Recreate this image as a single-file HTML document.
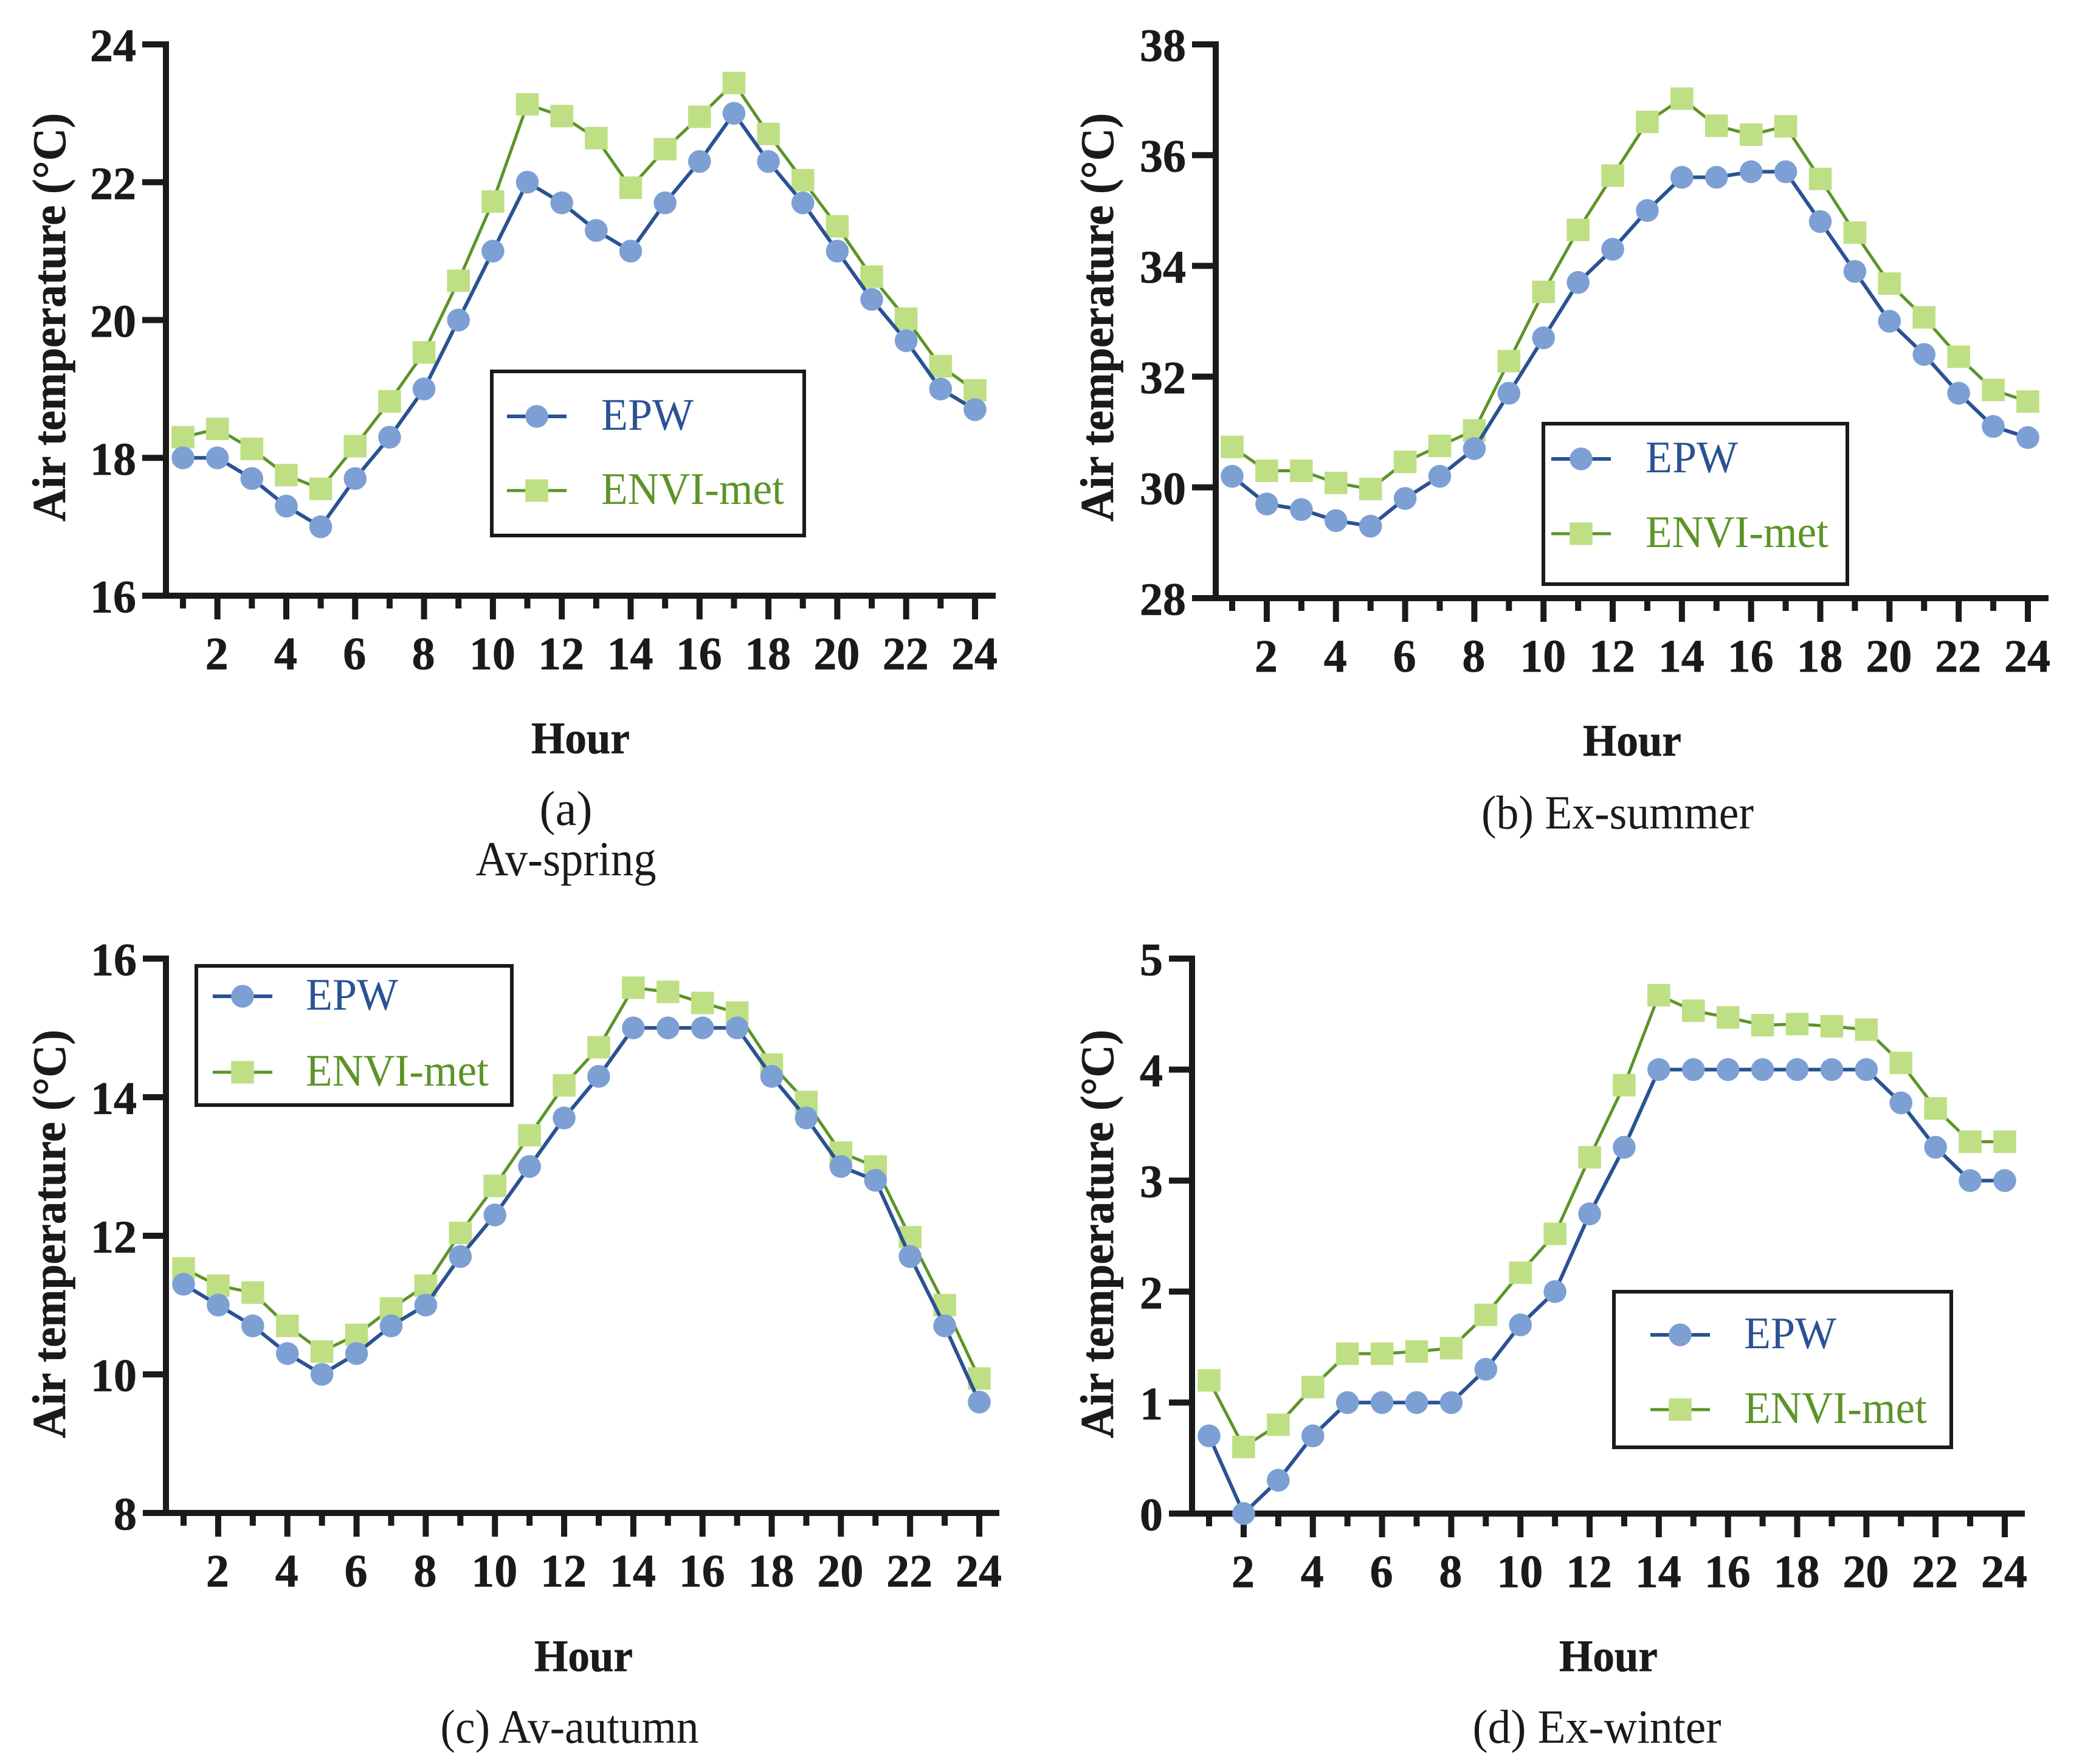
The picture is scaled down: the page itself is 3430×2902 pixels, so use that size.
<!DOCTYPE html>
<html lang="en">
<head>
<meta charset="utf-8">
<title>Air temperature: EPW vs ENVI-met</title>
<style>
html,body{margin:0;padding:0;background:#fff;}
svg{display:block;}
text{font-family:"Liberation Serif",serif;}
</style>
</head>
<body>
<svg id="chart" xmlns="http://www.w3.org/2000/svg" width="3430" height="2902" viewBox="0 0 3430 2902"></svg>
<script>
var hours = [1,2,3,4,5,6,7,8,9,10,11,12,13,14,15,16,17,18,19,20,21,22,23,24];
var xTickLabels = [2,4,6,8,10,12,14,16,18,20,22,24];

var springTicks = [16,18,20,22,24];
var springEpw = [18,18,17.7,17.3,17,17.7,18.3,19,20,21,22,21.7,21.3,21,21.7,22.3,23,22.3,21.7,21,20.3,19.7,19,18.7];
var springEnvi = [18.3,18.42,18.13,17.75,17.55,18.17,18.82,19.53,20.57,21.72,23.13,22.96,22.64,21.92,22.48,22.95,23.44,22.7,22.03,21.36,20.63,20.02,19.33,18.98];

var summerTicks = [28,30,32,34,36,38];
var summerEpw = [30.2,29.7,29.6,29.4,29.3,29.8,30.2,30.7,31.7,32.7,33.7,34.3,35,35.6,35.6,35.7,35.7,34.8,33.9,33,32.4,31.7,31.1,30.9];
var summerEnvi = [30.73,30.3,30.3,30.08,29.97,30.46,30.75,31.03,32.28,33.53,34.65,35.63,36.6,37.02,36.53,36.37,36.52,35.57,34.6,33.68,33.07,32.36,31.76,31.55];

var autumnTicks = [8,10,12,14,16];
var autumnEpw = [11.3,11,10.7,10.3,10,10.3,10.7,11,11.7,12.3,13,13.7,14.3,15,15,15,15,14.3,13.7,13,12.8,11.7,10.7,9.6];
var autumnEnvi = [11.53,11.28,11.18,10.7,10.33,10.57,10.95,11.28,12.04,12.72,13.45,14.17,14.72,15.58,15.52,15.36,15.22,14.47,13.93,13.2,13,11.98,11,9.94];

var winterTicks = [0,1,2,3,4,5];
var winterEpw = [0.7,0,0.3,0.7,1,1,1,1,1.3,1.7,2,2.7,3.3,4,4,4,4,4,4,4,3.7,3.3,3,3];
var winterEnvi = [1.2,0.6,0.8,1.14,1.44,1.44,1.46,1.49,1.79,2.17,2.52,3.21,3.86,4.67,4.53,4.47,4.4,4.41,4.39,4.36,4.06,3.65,3.35,3.35];

var AXIS = '#1a1a1a', BLUE = '#2a5294', LBLUE = '#7da0d4', GREEN = '#5c9427', LGREEN = '#bfdf85';
var svg = document.getElementById('chart');

function make(tag, attrs, txt, parent) {
  var e = document.createElementNS('http://www.w3.org/2000/svg', tag);
  for (var k in attrs) e.setAttribute(k, attrs[k]);
  if (txt !== undefined && txt !== null) e.textContent = txt;
  (parent || svg).appendChild(e);
  return e;
}

function drawSeries(g, xFn, yFn, values, isCircle) {
  var pts = values.map(function (v, i) { return xFn(hours[i]) + ',' + yFn(v); }).join(' ');
  var line = make('polyline', {points: pts, fill: 'none', stroke: isCircle ? BLUE : GREEN, 'stroke-width': isCircle ? 6 : 5, 'stroke-linejoin': 'round'}, null, g);
  
  
  values.forEach(function (v, i) {
    var m;
    if (isCircle) {
      m = make('circle', {cx: xFn(hours[i]), cy: yFn(v), r: 18.8, fill: LBLUE}, null, g);
      
    } else {
      m = make('rect', {x: xFn(hours[i]) - 18.8, y: yFn(v) - 18.5, width: 37.6, height: 37, fill: LGREEN}, null, g);
      
    }
    
  });
}

function drawLegend(p, g) {
  var L = p.legend;
  var box = make('rect', {x: L.x0 + 3, y: L.y0 + 3, width: L.x1 - L.x0 - 6, height: L.y1 - L.y0 - 6, fill: '#fff', stroke: AXIS, 'stroke-width': 6}, null, g);
  
  

  var l1 = make('line', {x1: L.mx - 49, x2: L.mx + 49, y1: L.y1row, y2: L.y1row, stroke: BLUE, 'stroke-width': 6}, null, g);
  
  
  var c1 = make('circle', {cx: L.mx, cy: L.y1row, r: 18.8, fill: LBLUE}, null, g);
  
  
  var t1 = make('text', {x: L.tx, y: L.y1row + 22, 'font-size': 74, fill: BLUE, textLength: 152, lengthAdjust: 'spacingAndGlyphs'}, 'EPW', g);
  
  

  var l2 = make('line', {x1: L.mx - 49, x2: L.mx + 49, y1: L.y2row, y2: L.y2row, stroke: GREEN, 'stroke-width': 5}, null, g);
  
  
  var c2 = make('rect', {x: L.mx - 18.8, y: L.y2row - 18.5, width: 37.6, height: 37, fill: LGREEN}, null, g);
  
  
  var t2 = make('text', {x: L.tx, y: L.y2row + 22, 'font-size': 74, fill: GREEN, textLength: 301, lengthAdjust: 'spacingAndGlyphs'}, 'ENVI-met', g);
  
  
}

function drawPanel(p) {
  var g = make('g', {});
  
  

  var minV = p.ticks[0], maxV = p.ticks[p.ticks.length - 1];
  function yFn(v) { return p.yBottom + (v - minV) * (p.yTop - p.yBottom) / (maxV - minV); }
  function xFn(h) { return p.x1 + (h - 1) * (p.x24 - p.x1) / 23; }

  // axes
  var yAxis = make('line', {x1: p.axisX, x2: p.axisX, y1: p.yTop - 5, y2: p.yBottom, stroke: AXIS, 'stroke-width': 10}, null, g);
  
  
  var xAxis = make('line', {x1: p.left, x2: p.right, y1: p.yBottom, y2: p.yBottom, stroke: AXIS, 'stroke-width': 10}, null, g);
  
  

  // y ticks
  p.ticks.forEach(function (v) {
    var tk = make('line', {x1: p.left, x2: p.axisX, y1: yFn(v), y2: yFn(v), stroke: AXIS, 'stroke-width': 10}, null, g);
    
    
    var lb = make('text', {x: p.left - 10, y: yFn(v) + 27.5, 'font-size': 76, 'font-weight': 'bold', 'text-anchor': 'end', fill: AXIS, stroke: AXIS, 'stroke-width': 0.7}, v, g);
    
    
  });

  // x ticks
  hours.forEach(function (h) {
    var major = xTickLabels.indexOf(h) >= 0;
    var tk = make('line', {x1: xFn(h), x2: xFn(h), y1: p.yBottom, y2: p.yBottom + (major ? 39 : 21), stroke: AXIS, 'stroke-width': 10}, null, g);
    
    
  });
  xTickLabels.forEach(function (h) {
    var lb = make('text', {x: xFn(h) - 1, y: p.yBottom + 121, 'font-size': 76, 'font-weight': 'bold', 'text-anchor': 'middle', fill: AXIS, stroke: AXIS, 'stroke-width': 0.7}, h, g);
    
    
  });

  // titles
  var yt = make('text', {transform: 'translate(' + p.yTitleX + ',' + p.yTitleY + ') rotate(-90)', 'font-size': 77, 'font-weight': 'bold', 'text-anchor': 'middle', fill: AXIS, stroke: AXIS, 'stroke-width': 0.7, textLength: 672, lengthAdjust: 'spacingAndGlyphs'}, 'Air temperature (°C)', g);
  
  
  var xt = make('text', {x: p.hourX, y: p.hourY, 'font-size': 74, 'font-weight': 'bold', 'text-anchor': 'middle', fill: AXIS, stroke: AXIS, 'stroke-width': 0.7, textLength: 162, lengthAdjust: 'spacingAndGlyphs'}, 'Hour', g);
  
  

  // captions
  p.captions.forEach(function (c) {
    var cp = make('text', {x: c.x, y: c.y, 'font-size': c.fs, 'text-anchor': 'middle', fill: AXIS, textLength: c.len, lengthAdjust: 'spacingAndGlyphs'}, c.t, g);
    
    
  });

  drawLegend(p, g);
  drawSeries(g, xFn, yFn, p.envi, false);
  drawSeries(g, xFn, yFn, p.epw, true);
}

drawPanel({name: 'panel-a-av-spring', ticks: springTicks, epw: springEpw, envi: springEnvi,
  axisX: 273, left: 234, right: 1638, yTop: 73, yBottom: 980, x1: 301, x24: 1604,
  yTitleX: 107, yTitleY: 522, hourX: 955, hourY: 1239,
  captions: [{t: '(a)', x: 931, y: 1357, len: 87, fs: 80}, {t: 'Av-spring', x: 931, y: 1440, len: 297, fs: 80}],
  legend: {x0: 806, x1: 1326, y0: 608, y1: 884, mx: 883, tx: 989, y1row: 685, y2row: 807}});

drawPanel({name: 'panel-b-ex-summer', ticks: summerTicks, epw: summerEpw, envi: summerEnvi,
  axisX: 2000, left: 1961, right: 3370, yTop: 73, yBottom: 984, x1: 2027, x24: 3336,
  yTitleX: 1831, yTitleY: 522, hourX: 2685, hourY: 1243,
  captions: [{t: '(b) Ex-summer', x: 2661, y: 1363, len: 448, fs: 78}],
  legend: {x0: 2536, x1: 3042, y0: 694, y1: 964, mx: 2601, tx: 2707, y1row: 755, y2row: 878}});

drawPanel({name: 'panel-c-av-autumn', ticks: autumnTicks, epw: autumnEpw, envi: autumnEnvi,
  axisX: 273, left: 235, right: 1644, yTop: 1577, yBottom: 2489, x1: 302, x24: 1611,
  yTitleX: 107, yTitleY: 2030, hourX: 960, hourY: 2749,
  captions: [{t: '(c) Av-autumn', x: 937, y: 2867, len: 425, fs: 78}],
  legend: {x0: 320, x1: 845, y0: 1586, y1: 1821, mx: 399, tx: 503, y1row: 1639, y2row: 1764}});

drawPanel({name: 'panel-d-ex-winter', ticks: winterTicks, epw: winterEpw, envi: winterEnvi,
  axisX: 1961, left: 1923, right: 3331, yTop: 1577, yBottom: 2490, x1: 1989, x24: 3298,
  yTitleX: 1831, yTitleY: 2030, hourX: 2646, hourY: 2749,
  captions: [{t: '(d) Ex-winter', x: 2627, y: 2867, len: 409, fs: 78}],
  legend: {x0: 2652, x1: 3213, y0: 2122, y1: 2384, mx: 2764, tx: 2869, y1row: 2196, y2row: 2319}});
</script>
</body>
</html>
